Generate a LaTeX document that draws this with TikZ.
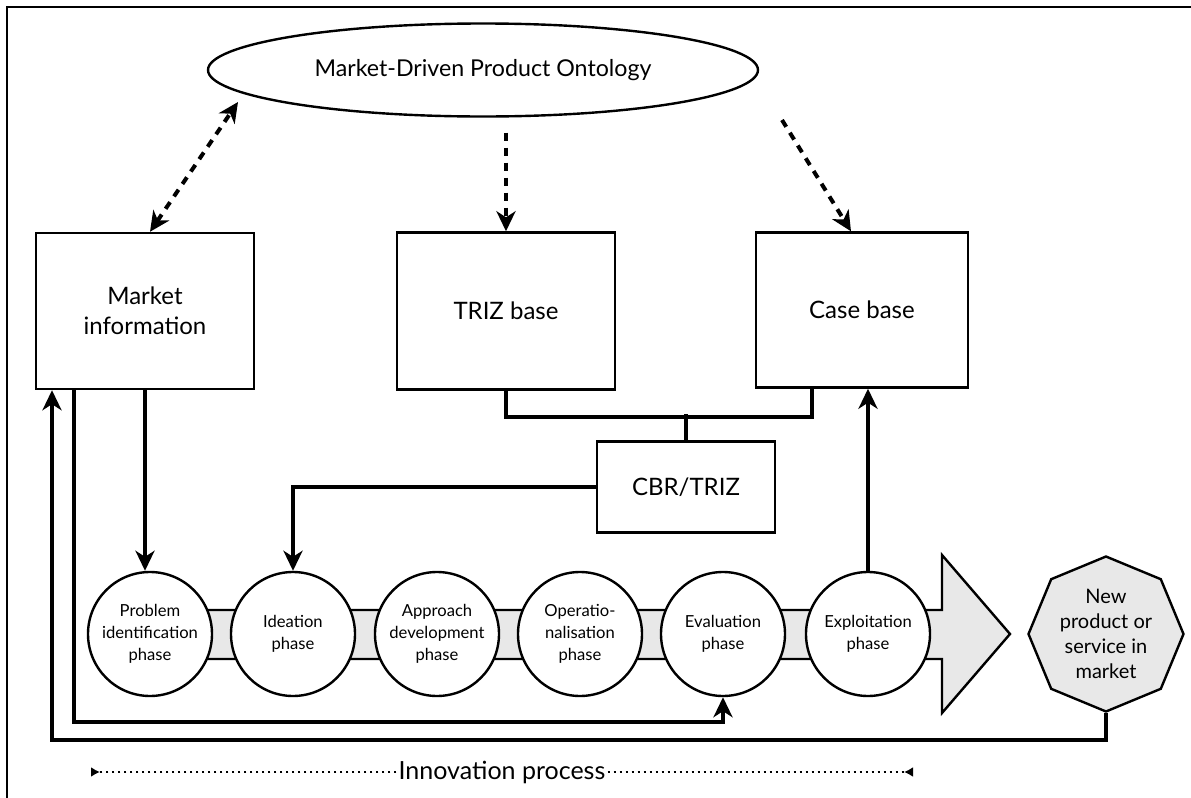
\documentclass[tikz,border=0pt]{standalone}
\usepackage{fontspec}
\setmainfont{Lato}
\usetikzlibrary{shapes.geometric,arrows.meta}
\tikzstyle{store} = [rectangle, draw=black, line width=1.2pt, align=center, font=\fontsize{12}{15}\selectfont]
\tikzstyle{phase} = [circle, draw=black, fill=white, line width=1.2pt, minimum size=62pt, inner sep=0pt, align=center, font=\fontsize{8.3}{11}\selectfont]
\tikzstyle{link} = [line width=2pt]
\tikzstyle{arr} = [link, ->]
\tikzstyle{dasharr} = [line width=2pt, dash pattern=on 4pt off 3.5pt, ->]
\definecolor{bandgray}{gray}{0.91}

\begin{document}
\begin{tikzpicture}[x=0.5pt,y=-0.5pt, >={Stealth[length=10pt,width=9.5pt,inset=3pt]}]
				\useasboundingbox (0,0) rectangle (1191,798);
				\draw[line width=1pt] (7,798) -- (7,7) -- (1191,7);
				% ontology and the three bases
				\node (onto) [ellipse, draw=black, line width=1.2pt, minimum width=275pt, minimum height=46.5pt, inner sep=0pt, font=\fontsize{11.6}{14}\selectfont] at (483,70) {Market-Driven Product Ontology};
				\node (mkt) [store, minimum width=109pt, minimum height=78pt] at (145,311) {Market\\information};
				\node (triz) [store, minimum width=109pt, minimum height=78.5pt] at (506,311) {TRIZ base};
				\node (case) [store, minimum width=106pt, minimum height=77.5pt] at (862,310) {Case base};
				\node (cbr) [store, minimum width=89pt, minimum height=45.5pt] at (686,487) {CBR/TRIZ};
				% process band with arrow head
				\filldraw[fill=bandgray, line width=1.2pt] (150,610) -- (942,610) -- (942,555) -- (1010,634)
					-- (942,713) -- (942,659) -- (150,659) -- cycle;
				\node (prob) [phase] at (150,634) {Problem\\identification\\phase};
				\node (idea) [phase] at (293,634) {Ideation\\phase};
				\node (appr) [phase] at (437,634) {Approach\\development\\phase};
				\node (oper) [phase] at (580,634) {Operatio-\\nalisation\\phase};
				\node (eval) [phase] at (723,634) {Evaluation\\phase};
				\node (expl) [phase] at (868,634) {Exploitation\\phase};
				\node (newprod) [regular polygon, regular polygon sides=8, shape border rotate=22.5, draw=black, fill=bandgray, line width=1.2pt, minimum size=77.5pt, inner sep=0pt, align=center, font=\fontsize{10}{12.5}\selectfont] at (1106,634) {New\\product or\\service in\\market};
				% dashed links from the ontology
				\draw[dasharr, <->] ([xshift=2.5pt]mkt.north) -- ([shift={(-245,32)}]onto.center);
				\draw[dasharr, shorten <=7.5pt] (onto.south -| triz.north) -- (triz.north);
				\draw[dasharr] ([shift={(299,50)}]onto.center) -- ([xshift=-5.5pt]case.north);
				% solid links
				\draw[arr] (mkt.south) -- (mkt.south |- prob.north);
				\draw[link] (triz.south) -- ++(0,26) -| ([xshift=-25pt]case.south);
				\draw[link] (cbr.north) -- ++(0,-26);
				\draw[arr] (cbr.west) -| (idea.north);
				\draw[arr] (expl.north) -- (expl.north |- case.south);
				\draw[arr] ([xshift=-35.5pt]mkt.south) |- ([yshift=-12.5pt]eval.south) -- (eval.south);
				\draw[arr] (newprod.south) -- ++(0,27) -| ([xshift=-46.5pt]mkt.south);
				% innovation process
				\node (inno) [font=\fontsize{12.5}{14}\selectfont, inner sep=1pt] at (502,772) {Innovation process};
				\coordinate (innoL) at (91,772);
				\coordinate (innoR) at (913,772);
				\draw[line width=1pt, dotted, -{Latex[reversed,length=4.5pt,width=5pt]}] (inno.west) -- (innoL);
				\draw[line width=1pt, dotted, -{Latex[reversed,length=4.5pt,width=5pt]}] (inno.east) -- (innoR);
			\end{tikzpicture}
\end{document}
